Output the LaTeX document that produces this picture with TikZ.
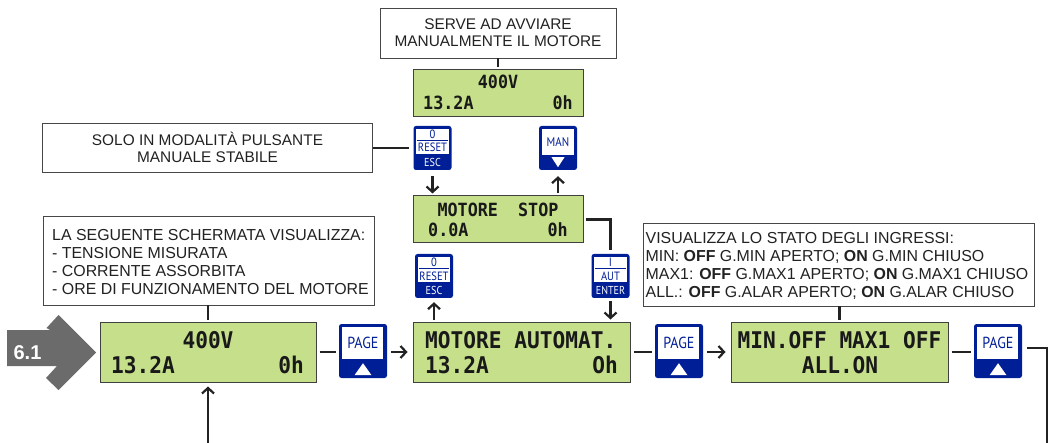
\documentclass[tikz,border=0pt]{standalone}
\usepackage{fontspec}
\setmainfont{Liberation Sans}
\newfontfamily\lcdfont[FakeStretch=0.92]{DejaVu Sans Mono}
\newfontfamily\keyfont[FakeStretch=0.88]{PT Sans}
\usetikzlibrary{arrows.meta,calc}
\definecolor{keyblue}{HTML}{001E96}
\definecolor{lcdgreen}{HTML}{C6DF8B}
\definecolor{ink}{HTML}{222222}
\tikzset{
  note/.style={draw=black!72,line width=0.9pt,fill=white,inner sep=0pt,text=ink,font=\fontsize{15.4}{17}\selectfont},
  notetext/.style={inner sep=0pt,anchor=west,align=left,text=ink,font=\fontsize{15.9}{18}\selectfont},
  lcd/.style={draw=black!75,line width=1pt,fill=lcdgreen,inner sep=0pt},
  lcdbig/.style={inner sep=0pt,anchor=base,text=black!90,font=\lcdfont\bfseries\fontsize{23}{23}\selectfont},
  lcdsmall/.style={inner sep=0pt,anchor=base,text=black!90,font=\lcdfont\bfseries\fontsize{18.2}{18}\selectfont},
  keybody/.style={fill=keyblue,rounded corners=2.5pt,inner sep=0pt},
  keytxt/.style={inner sep=0pt,text=keyblue},
  keytxtw/.style={inner sep=0pt,text=white},
  conn/.style={draw=ink,line width=2.2pt},
  arr/.style={conn,-{Straight Barb[length=5.5pt,width=12pt,line width=2.2pt]}},
}
% large PAGE key: name, centre x, centre y
\newcommand{\pagekey}[3]{%
  \node[keybody,minimum width=48pt,minimum height=54pt] (#1) at (#2,#3) {};
  \fill[white] ($(#1.north west)+(3,3)$) rectangle ($(#1.north east)+(-4,35)$);
  \node[keytxt,font=\keyfont\fontsize{16}{16}\selectfont] (#1t) at ($(#1.north)+(0,19)$) {PAGE};
  \fill[white] ($(#1.south)+(-8.5,-3)$) -- ($(#1.south)+(8.5,-3)$) -- ($(#1.south)+(0,-15)$) -- cycle;
}
% small key with two-storey face: name, centre x, centre y, upper, lower, footer
\newcommand{\stackkey}[6]{%
  \node[keybody,minimum width=38pt,minimum height=44pt] (#1) at (#2,#3) {};
  \fill[white] ($(#1.north west)+(3,3)$) rectangle ($(#1.north east)+(-3,28)$);
  \draw[keyblue,line width=0.9pt] ($(#1.north west)+(4,15)$) -- ($(#1.north east)+(-4,15)$);
  \node[keytxt,font=\keyfont\fontsize{12}{12}\selectfont] (#1u) at ($(#1.north)+(0,8.5)$) {#4};
  \node[keytxt,font=\keyfont\fontsize{12}{12}\selectfont] (#1l) at ($(#1.north)+(0,22)$) {#5};
  \node[keytxtw,font=\keyfont\fontsize{11.5}{12}\selectfont] (#1f) at ($(#1.south)+(0,-8)$) {#6};
}
\begin{document}
\begin{tikzpicture}[x=1pt,y=-1pt]
\useasboundingbox (0,0) rectangle (1051,443);
% entry arrow
\fill[black!58] (7,330) -- (50,330) -- (46.5,328) -- (58.5,315) -- (96,352.5) -- (58.5,390) -- (46,378) -- (57,366) -- (7,366) -- cycle;
\node[inner sep=0pt,text=white,font=\bfseries\fontsize{20}{20}\selectfont] (entry) at (27.5,353) {6.1};
% notes
\node[note,minimum width=331pt,minimum height=89pt] (noteA) at (208.5,260.5) {};
\node[notetext] (noteAt) at (52,262)
  {LA SEGUENTE SCHERMATA VISUALIZZA:\\- TENSIONE MISURATA\\- CORRENTE ASSORBITA\\- ORE DI FUNZIONAMENTO DEL MOTORE};
\node[note,minimum width=236pt,minimum height=50pt,align=center] (noteB) at (498,33)
  {SERVE AD AVVIARE\\MANUALMENTE IL MOTORE};
\node[note,minimum width=330pt,minimum height=49pt,align=center] (noteC) at (207.5,147.5)
  {SOLO IN MODALITÀ PULSANTE\\MANUALE STABILE};
\node[note,minimum width=391pt,minimum height=83pt] (noteD) at (838.5,264.5) {};
\node[notetext] (noteDt) at (645.5,266)
  {VISUALIZZA LO STATO DEGLI INGRESSI:\\MIN: \textbf{OFF} G.MIN APERTO; \textbf{ON} G.MIN CHIUSO\\MAX1: \textbf{OFF} G.MAX1 APERTO; \textbf{ON} G.MAX1 CHIUSO\\ALL.: \textbf{OFF} G.ALAR APERTO; \textbf{ON} G.ALAR CHIUSO};
% displays
\node[lcd,minimum width=216pt,minimum height=60pt] (lcdA) at (208,352) {};
\node[lcdbig] (lcdAa) at (208,348) {400V};
\node[lcdbig,anchor=base west] (lcdAb) at (111,373) {13.2A};
\node[lcdbig,anchor=base east] (lcdAc) at (304,373) {0h};
\node[lcd,minimum width=217pt,minimum height=60pt] (lcdB) at (521.5,352) {};
\node[lcdbig,anchor=base west] (lcdBa) at (425,348) {MOTORE AUTOMAT.};
\node[lcdbig,anchor=base west] (lcdBb) at (425,373) {13.2A};
\node[lcdbig,anchor=base east] (lcdBc) at (618,373) {Oh};
\node[lcd,minimum width=217pt,minimum height=60pt] (lcdC) at (839.5,352) {};
\node[lcdbig] (lcdCa) at (839.5,348) {MIN.OFF MAX1 OFF};
\node[lcdbig] (lcdCb) at (840,373) {ALL.ON};
\node[lcd,minimum width=170pt,minimum height=47pt] (lcdD) at (498,93.5) {};
\node[lcdsmall] (lcdDa) at (498,89) {400V};
\node[lcdsmall,anchor=base west] (lcdDb) at (423,110) {13.2A};
\node[lcdsmall,anchor=base east] (lcdDc) at (573,110) {0h};
\node[lcd,minimum width=170pt,minimum height=47pt] (lcdE) at (498,219.5) {};
\node[lcdsmall] (lcdEa) at (498,217) {MOTORE\ \ STOP};
\node[lcdsmall,anchor=base west] (lcdEb) at (428,237) {0.0A};
\node[lcdsmall,anchor=base east] (lcdEc) at (568,237) {0h};
% keys
\pagekey{pgA}{363}{351}
\pagekey{pgB}{679}{351}
\pagekey{pgC}{998}{351}
\stackkey{rsA}{432.5}{148}{0}{RESET}{ESC}
\stackkey{rsB}{434}{276}{0}{RESET}{ESC}
\stackkey{aut}{610.5}{276}{I}{AUT}{ENTER}
\node[keybody,minimum width=38pt,minimum height=44pt] (man) at (558,148) {};
\fill[white] ($(man.north west)+(3,3)$) rectangle ($(man.north east)+(-3,29)$);
\node[keytxt,font=\keyfont\fontsize{12.5}{13}\selectfont] (mant) at ($(man.north)+(0,16)$) {MAN};
\fill[white] ($(man.south)+(-6.5,-13)$) -- ($(man.south)+(6.5,-13)$) -- ($(man.south)+(0,-3)$) -- cycle;
% connectors
\coordinate (inA) at (208,443);
\coordinate (outC) at (1047,443);
\draw[conn,shorten >=2pt] (noteA.south -| lcdA.north) -- (lcdA.north);
\draw[conn,shorten >=2pt] (noteB.south) -- (lcdD.north);
\draw[conn,shorten >=2pt] (noteD.south -| lcdC.north) -- (lcdC.north);
\draw[conn,shorten >=4pt] (rsA.west -| noteC.east) -- (rsA.west);
\draw[arr,shorten >=4pt] (inA) -- (lcdA.south);
\draw[conn,shorten <=3pt,shorten >=3pt] (lcdA.east) -- (lcdA.east -| pgA.west);
\draw[arr,shorten <=4pt,shorten >=5pt] (pgA.east |- lcdB.west) -- (lcdB.west);
\draw[conn,shorten <=3pt,shorten >=3pt] (lcdB.east) -- (lcdB.east -| pgB.west);
\draw[arr,shorten <=4pt,shorten >=5pt] (pgB.east |- lcdC.west) -- (lcdC.west);
\draw[conn,shorten <=3pt,shorten >=3pt] (lcdC.east) -- (lcdC.east -| pgC.west);
\draw[conn,shorten <=5pt] (pgC.east |- 0,348) -- (outC |- 0,348) -- (outC);
\draw[arr,shorten <=6pt,shorten >=2pt] (rsA.south) -- (rsA.south |- lcdE.north);
\draw[arr,shorten <=2pt,shorten >=6pt] (man.south |- lcdE.north) -- (man.south);
\draw[arr,shorten <=2pt,shorten >=4pt] (rsB.south |- lcdB.north) -- (rsB.south);
\draw[conn,shorten <=2pt,shorten >=4pt] (lcdE.east) -- (lcdE.east -| aut.north) -- (aut.north);
\draw[arr,shorten <=3pt,shorten >=2pt] (aut.south) -- (aut.south |- lcdB.north);
\end{tikzpicture}
\end{document}
